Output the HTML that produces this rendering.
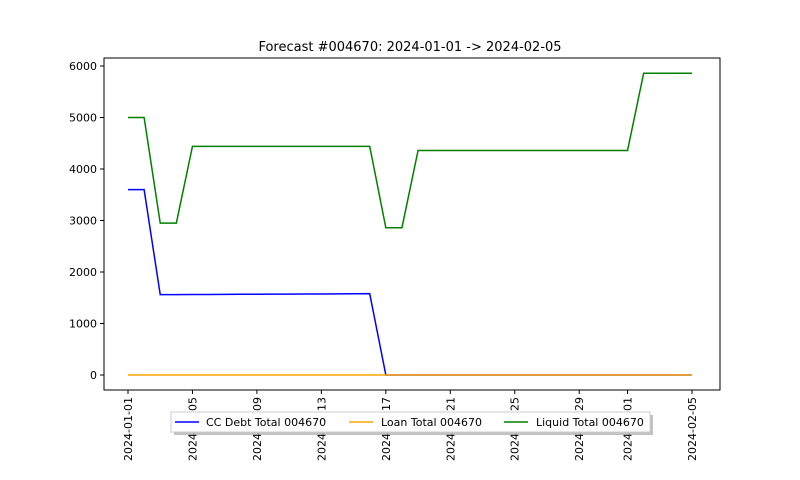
<!DOCTYPE html>
<html><head><meta charset="utf-8"><style>
body{margin:0;background:#fff;}
svg{display:block;font-family:"DejaVu Sans","Liberation Sans",sans-serif;}
</style></head><body>
<svg id="c" width="800" height="480" viewBox="0 0 800 480">
<rect width="800" height="480" fill="#fff"/>
<text x="410" y="51" font-size="13" text-anchor="middle">Forecast #004670: 2024-01-01 -&gt; 2024-02-05</text>
<g id="grid"></g>
<g id="lines"></g>
<rect x="104" y="58" width="616" height="332" fill="none" stroke="#000" stroke-width="1"/>
<g>
<rect x="174" y="415" width="479" height="20" fill="#999" opacity="0.6"/>
<rect x="171" y="412" width="479" height="20" fill="#fff" stroke="#ccc"/>
<line x1="175" y1="422" x2="199" y2="422" stroke="blue" stroke-width="1.5"/>
<text x="206" y="426" font-size="11">CC Debt Total 004670</text>
<line x1="349" y1="422" x2="373" y2="422" stroke="orange" stroke-width="1.5"/>
<text x="381" y="426" font-size="11">Loan Total 004670</text>
<line x1="504" y1="422" x2="528" y2="422" stroke="green" stroke-width="1.5"/>
<text x="536" y="426" font-size="11">Liquid Total 004670</text>
</g>
</svg>
<script>
const days=[0,1,2,3,4,5,6,7,8,9,10,11,12,13,14,15,16,17,18,19,20,21,22,23,24,25,26,27,28,29,30,31,32,33,34,35];
const ccDebt=[3600,3600,1560,1561,1563,1564,1566,1567,1569,1570,1571,1573,1574,1576,1577,1579,0,0,0,0,0,0,0,0,0,0,0,0,0,0,0,0,0,0,0,0];
const loan=[0,0,0,0,0,0,0,0,0,0,0,0,0,0,0,0,0,0,0,0,0,0,0,0,0,0,0,0,0,0,0,0,0,0,0,0];
const liquid=[5000,5000,2950,2950,4440,4440,4440,4440,4440,4440,4440,4440,4440,4440,4440,4440,2860,2860,4360,4360,4360,4360,4360,4360,4360,4360,4360,4360,4360,4360,4360,4360,5860,5860,5860,5860];
const yTicks=[0,1000,2000,3000,4000,5000,6000];
const xTickDays=[0,4,8,12,16,20,24,28,31,35];
const xTickLabels=["2024-01-01","2024-01-05","2024-01-09","2024-01-13","2024-01-17","2024-01-21","2024-01-25","2024-01-29","2024-02-01","2024-02-05"];
const NS="http://www.w3.org/2000/svg";
const X=d=>128+d*(564/35);
const Y=v=>375-v*(309/6000);
const grid=document.getElementById('grid'),lines=document.getElementById('lines');
function mk(t,a,p){const e=document.createElementNS(NS,t);for(const k in a)e.setAttribute(k,a[k]);p.appendChild(e);return e;}
yTicks.forEach(v=>{
 const l=mk('line',{x1:100,x2:104,y1:Y(v),y2:Y(v),stroke:'#000'},grid);
 
 
 const t=mk('text',{x:97,y:Y(v)+4,'font-size':11,'text-anchor':'end'},grid);t.textContent=v;
 
 
});
xTickDays.forEach((d,i)=>{
 const l=mk('line',{x1:X(d),x2:X(d),y1:390,y2:394,stroke:'#000'},grid);
 
 
 const t=mk('text',{x:0,y:0,'font-size':11,'text-anchor':'end',transform:`translate(${X(d)+4},397) rotate(-90)`},grid);t.textContent=xTickLabels[i];
 
 
});
[[ccDebt,'blue','cc-debt-line'],[loan,'orange','loan-line'],[liquid,'green','liquid-line']].forEach(([s,c,n])=>{
 const p=mk('polyline',{points:s.map((v,i)=>X(days[i])+','+Y(v)).join(' '),fill:'none',stroke:c,'stroke-width':1.5},lines);
 
 
});
</script>
</body></html>
